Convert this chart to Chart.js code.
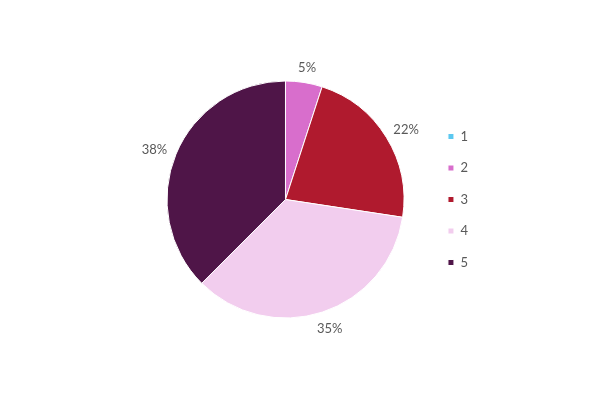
<!DOCTYPE html>
<html>
<head>
<meta charset="utf-8">
<script src="https://cdn.jsdelivr.net/npm/chart.js@4"></script>
<style>
html,body{margin:0;padding:0;background:#fff;}
#wrap{width:600px;height:400px;position:relative;}
</style>
</head>
<body>
<div id="wrap"><canvas id="c"></canvas></div>
<script>
const categories = ['1', '2', '3', '4', '5'];
const values = [0, 5, 22.4, 35.1, 37.5];
const colors = ['#5BC8F0', '#D86ECC', '#B01A2E', '#F2CDEE', '#4F1548'];

const labelPlugin = {
  id: 'outLabels',
  afterDatasetsDraw(chart) {
    const ctx = chart.ctx;
    const meta = chart.getDatasetMeta(0);
    const total = values.reduce((a, b) => a + b, 0);
    ctx.save();
    ctx.font = '13px Lato, "Open Sans", sans-serif';
    ctx.fillStyle = '#595959';
    ctx.textAlign = 'center';
    ctx.textBaseline = 'middle';
    meta.data.forEach((arc, i) => {
      const v = values[i];
      if (!v) return;
      const mid = (arc.startAngle + arc.endAngle) / 2;
      const txt = Math.round(v / total * 100) + '%';
      const hw = ctx.measureText(txt).width / 2;
      const hh = 6;
      const r = arc.outerRadius + 10.5;
      const cx = arc.x + Math.cos(mid) * r + Math.cos(mid) * hw;
      const cy = arc.y + Math.sin(mid) * r + Math.sin(mid) * hh + 1.5;
      ctx.fillText(txt, cx, cy);
    });
    ctx.restore();
  }
};

new Chart(document.getElementById('c'), {
  type: 'pie',
  data: {
    labels: categories,
    datasets: [{
      data: values,
      backgroundColor: colors,
      borderColor: '#ffffff',
      borderWidth: 1
    }]
  },
  options: {
    responsive: true,
    maintainAspectRatio: false,
    animation: false,
    layout: { padding: { left: 141.5, right: 122, top: 80.5, bottom: 81.5 } },
    plugins: {
      tooltip: { enabled: false },
      legend: {
        position: 'right',
        align: 'center',
        labels: {
          boxWidth: 6,
          boxHeight: 6,
          padding: 18.5,
          color: '#595959',
          font: { size: 13, family: 'Lato, "Open Sans", sans-serif' }
        }
      }
    }
  },
  plugins: [labelPlugin]
});
</script>
</body>
</html>
